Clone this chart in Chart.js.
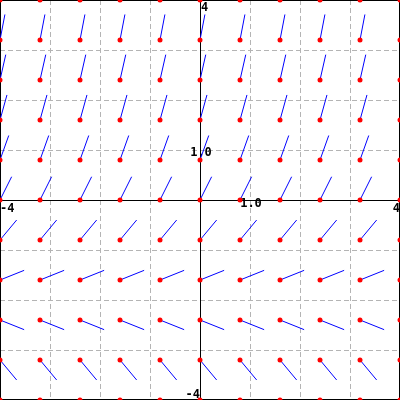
<!DOCTYPE html>
<html>
<head>
<meta charset="utf-8">
<script src="https://cdn.jsdelivr.net/npm/chart.js@4"></script>
<style>
html, body { margin: 0; padding: 0; background: #fff; }
#wrap { width: 400px; height: 400px; }
</style>
</head>
<body>
<div id="wrap"><canvas id="myChart" width="400" height="400"></canvas></div>
<script>
// window and grid
const xMin = -4, xMax = 4, yMin = -4, yMax = 4;
const gridStep = 1;

// sample points of the slope field
const sampleX = [-4, -3.2, -2.4, -1.6, -0.8, 0, 0.8, 1.6, 2.4, 3.2, 4];
const sampleY = [4, 3.2, 2.4, 1.6, 0.8, 0, -0.8, -1.6, -2.4, -3.2, -4];
// slope (same in every column)
const rowSlopes = [6.0, 5.2, 4.4, 3.6, 2.8, 2.0, 1.2, 0.4, -0.4, -1.2, -2.0];
const segLength = 0.52;

// axis labels
const xLabelValues = [-4, 1, 4];
const xLabelTexts = ['-4', '1.0', '4'];
const yLabelValues = [4, 1, -4];
const yLabelTexts = ['4', '1.0', '-4'];

let myChart = null;

function buildDots() {
    const dots = [];
    sampleY.forEach(y => {
        sampleX.forEach(x => dots.push({ x: x, y: y }));
    });
    return dots;
}

function buildSegments() {
    const segs = [];
    sampleY.forEach((y, r) => {
        const m = rowSlopes[r];
        const d = Math.sqrt(1 + m * m);
        sampleX.forEach(x => {
            segs.push({ x: x, y: y });
            segs.push({ x: x + segLength / d, y: y + segLength * m / d });
            segs.push({ x: x, y: null });
        });
    });
    return segs;
}

const axesPlugin = {
    id: 'axesPlugin',
    beforeDatasetsDraw(chart) {
        const { ctx, chartArea: a, scales } = chart;
        const x0 = Math.round(scales.x.getPixelForValue(0)) + 0.5;
        const y0 = Math.round(scales.y.getPixelForValue(0)) + 0.5;
        ctx.save();
        ctx.strokeStyle = '#000';
        ctx.lineWidth = 1;
        ctx.beginPath();
        ctx.moveTo(x0, a.top);
        ctx.lineTo(x0, a.bottom);
        ctx.moveTo(a.left, y0);
        ctx.lineTo(a.right, y0);
        ctx.stroke();
        ctx.strokeRect(a.left + 0.5, a.top + 0.5, a.right - a.left - 1, a.bottom - a.top - 1);

        ctx.fillStyle = '#000';
        ctx.font = 'bold 12px "DejaVu Sans Mono", monospace';
        ctx.textBaseline = 'alphabetic';
        const xa = scales.x.getPixelForValue(0);
        const ya = scales.y.getPixelForValue(0);
        xLabelValues.forEach((v, i) => {
            const px = scales.x.getPixelForValue(v);
            if (v === xMin) { ctx.textAlign = 'left'; ctx.fillText(xLabelTexts[i], px, ya + 12); }
            else if (v === xMax) { ctx.textAlign = 'right'; ctx.fillText(xLabelTexts[i], px, ya + 12); }
            else { ctx.textAlign = 'center'; ctx.fillText(xLabelTexts[i], px + 1, ya + 7); }
        });
        yLabelValues.forEach((v, i) => {
            const py = scales.y.getPixelForValue(v);
            if (v === yMax) { ctx.textAlign = 'left'; ctx.fillText(yLabelTexts[i], xa + 1, py + 11); }
            else if (v === yMin) { ctx.textAlign = 'right'; ctx.fillText(yLabelTexts[i], xa, py - 2); }
            else { ctx.textAlign = 'center'; ctx.fillText(yLabelTexts[i], xa + 1, py + 6); }
        });
        ctx.restore();
    }
};

function initChart() {
    const ctx = document.getElementById('myChart').getContext('2d');
    const axisOpts = (min, max) => ({
        type: 'linear',
        min: min,
        max: max,
        ticks: { display: false, stepSize: gridStep },
        grid: { color: '#b4b4b4', lineWidth: 1, drawTicks: false },
        border: { display: false, dash: [5, 3] }
    });
    myChart = new Chart(ctx, {
        type: 'scatter',
        data: {
            datasets: [{
                data: buildDots(),
                pointRadius: 2.5,
                pointBackgroundColor: '#ff0000',
                pointBorderWidth: 0,
                showLine: false,
                order: 0
            }, {
                type: 'line',
                data: buildSegments(),
                borderColor: '#0000ff',
                borderWidth: 1,
                pointRadius: 0,
                spanGaps: false,
                fill: false,
                tension: 0,
                order: 1
            }]
        },
        options: {
            responsive: false,
            animation: false,
            events: [],
            layout: { padding: 0, autoPadding: false },
            plugins: {
                legend: { display: false },
                tooltip: { enabled: false }
            },
            scales: {
                x: axisOpts(xMin, xMax),
                y: axisOpts(yMin, yMax)
            }
        },
        plugins: [axesPlugin]
    });
}

initChart();
</script>
</body>
</html>
